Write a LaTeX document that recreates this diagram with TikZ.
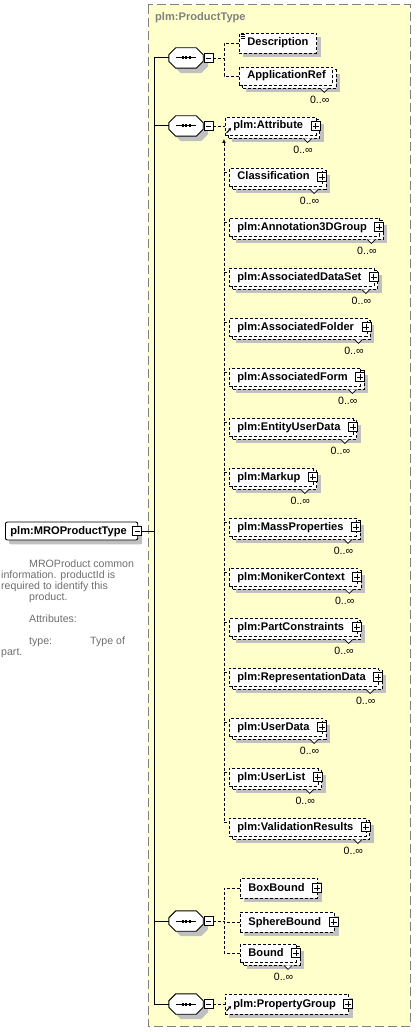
\documentclass[tikz,border=0pt]{standalone}
\usepackage{fontspec}
\setmainfont{Liberation Sans}
\usetikzlibrary{arrows.meta}
\definecolor{ybg}{RGB}{255,255,204}
\definecolor{shadowc}{RGB}{192,192,192}
\definecolor{hdrgray}{RGB}{128,128,128}
\definecolor{docgray}{RGB}{110,110,110}
\definecolor{framegray}{RGB}{128,128,128}
\pgfdeclarelayer{ylayer}
\pgfdeclarelayer{shad}
\pgfdeclarelayer{back}
\pgfsetlayers{ylayer,shad,back,main}
\tikzset{
  lbl/.style={font=\fontsize{11.1}{13}\selectfont\bfseries, text height=8pt, text depth=2pt},
  boxline/.style={dash pattern=on 3pt off 2pt, line width=0.9pt},
  conn/.style={dash pattern=on 3pt off 2pt, line width=0.9pt},
  solidconn/.style={line width=1pt},
  elembox/.style={lbl, boxline, draw, fill=white, anchor=west, inner xsep=0pt, inner ysep=0pt,
     execute at begin node={\hspace*{8pt}}, execute at end node={\hspace*{#1}}},
  single/.style={elembox=#1, minimum height=20pt},
  multi/.style={elembox=#1, minimum height=18pt},
  iconbox/.style={draw, fill=white, line width=0.8pt, minimum size=9pt, inner sep=0pt},
  minusbox/.style={iconbox, path picture={\draw[line width=0.8pt] ([xshift=2pt]path picture bounding box.west) -- ([xshift=-2pt]path picture bounding box.east);}},
  plusbox/.style={iconbox, path picture={\draw[line width=0.8pt] ([xshift=1.5pt]path picture bounding box.west) -- ([xshift=-1.5pt]path picture bounding box.east) ([yshift=1.5pt]path picture bounding box.south) -- ([yshift=-1.5pt]path picture bounding box.north);}},
  card/.style={font=\fontsize{10.6}{12}\selectfont, inner sep=0pt},
  doc/.style={font=\fontsize{10.6}{12}\selectfont, text=docgray, inner sep=0pt, anchor=base west},
  notch/.style={line width=0.7pt},
  seqframe/.style={draw=none, minimum width=34pt, minimum height=20pt, inner sep=0pt},
  refarrow/.style={line width=1pt, -{Stealth[length=3pt,width=3.5pt]}}
}
\newcommand\octagon[4]{\path[#4] ([shift={(7+#2,#3)}]#1.north west) -- ([shift={(-7+#2,#3)}]#1.north east) -- ([shift={(#2,7+#3)}]#1.north east) -- ([shift={(#2,-7+#3)}]#1.south east) -- ([shift={(-7+#2,#3)}]#1.south east) -- ([shift={(7+#2,#3)}]#1.south west) -- ([shift={(#2,-7+#3)}]#1.south west) -- ([shift={(#2,7+#3)}]#1.north west) -- cycle;}
\newcommand\Seq[2]{%
  \node[seqframe] (#1) at (186,#2) {};
  \begin{pgfonlayer}{shad}\octagon{#1}{5}{5}{fill=shadowc}\end{pgfonlayer}
  \octagon{#1}{0}{0}{draw, fill=white, line width=0.9pt}
  \draw[line width=1pt] ([xshift=-10pt]#1.center) -- ([xshift=10pt]#1.center);
  \foreach \d in {-3.5,0,3.5}{\fill ([shift={(\d-1,-1.5)}]#1.center) rectangle ([shift={(\d+1,1.5)}]#1.center);}
  \node[minusbox] (#1-m) at (208.5,#2) {};
}
\newcommand\SElem[5]{%
  \node[single=#5] (#1) at (#2,#3) {#4};
  \begin{pgfonlayer}{shad}
    \fill[shadowc] ([shift={(4,4)}]#1.north west) rectangle ([shift={(4,4)}]#1.south east);
  \end{pgfonlayer}
}
\newcommand\MElem[5]{%
  \node[multi=#5] (#1) at (#2,#3-1) {#4};
  \begin{pgfonlayer}{back}
    \draw[boxline, fill=white] ([shift={(3,3)}]#1.north west) rectangle ([shift={(3,3)}]#1.south east);
  \end{pgfonlayer}
  \begin{pgfonlayer}{shad}
    \fill[shadowc] ([shift={(7,7)}]#1.north west) rectangle ([shift={(7,7)}]#1.south east);
  \end{pgfonlayer}
  \draw[notch, fill=white] ([shift={(-13,3)}]#1.south east) -- ([shift={(-9,7)}]#1.south east) -- ([shift={(-5,3)}]#1.south east);
  \node[card] (#1-c) at ([shift={(-13.5,14)}]#1.south east) {0..∞};
}
\newcommand\PlusOn[1]{\node[plusbox] (#1-p) at ([xshift=-1pt]#1.east) {};}
\newcommand\Member[3]{%
  \MElem{#1}{229}{#2}{#3}{13pt}\PlusOn{#1}
  \coordinate (#1-t) at ([shift={(0,5)}]#1.north west);
  \draw[conn] (#1-t -| sg) -- (#1-t);
}
\begin{document}
\begin{tikzpicture}[x=1pt,y=-1pt]
\useasboundingbox (0,0) rectangle (417,1032);
\begin{pgfonlayer}{ylayer}
  \fill[ybg] (148,5) rectangle (410,1026);
  \draw[framegray, line width=1pt, dash pattern=on 9pt off 4pt] (148,5) rectangle (410,1026);
\end{pgfonlayer}
\node[lbl, text=hdrgray, anchor=west, inner sep=0pt] (hdr) at (155,18) {plm:ProductType};

% root element
\node[lbl, draw, fill=white, line width=0.9pt, rounded corners=2pt, anchor=west, inner xsep=0pt, inner ysep=0pt, minimum height=18pt, execute at begin node={\hspace*{5pt}}, execute at end node={\hspace*{11pt}}] (root) at (5,531) {plm:MROProductType};
\begin{pgfonlayer}{shad}
  \fill[shadowc, rounded corners=2pt] ([shift={(4,4)}]root.north west) rectangle ([shift={(4,4)}]root.south east);
\end{pgfonlayer}
\node[minusbox] (root-m) at ([xshift=-1pt]root.east) {};

% documentation
\node[doc] (d1) at (29,567) {MROProduct common};
\node[doc] (d2) at (1,578) {information. productId is};
\node[doc] (d3) at (1,589) {required to identify this};
\node[doc] (d4) at (29,600) {product.};
\node[doc] (d5) at (29,622) {Attributes:};
\node[doc] (d6) at (29,644) {type:};
\node[doc] (d6b) at (90,644) {Type of};
\node[doc] (d7) at (1,655) {part.};

% compositors
\Seq{s1}{58}
\Seq{s2}{126}
\Seq{s3}{921}
\Seq{s4}{1004}

% spine
\coordinate (spine) at (154,531);
\draw[solidconn] (root-m.east) -- (root-m.east -| spine);
\draw[solidconn] (s1.west) -- (s1.west -| spine) -- (s4.west -| spine) -- (s4.west);
\draw[solidconn] (s2.west) -- (s2.west -| spine);
\draw[solidconn] (s3.west) -- (s3.west -| spine);

% group 1
\SElem{desc}{239}{43}{Description}{8pt}
\foreach \k in {1.5,3.5,5.5}{\draw[line width=0.6pt] ([shift={(1.5,\k)}]desc.north west) -- ([shift={(5.5,\k)}]desc.north west);}
\MElem{appref}{239}{77}{ApplicationRef}{7pt}
\coordinate (g1) at (224,58);
\draw[conn] (s1-m.east) -- (g1);
\draw[conn] (desc.west) -| (g1);
\draw[conn] (appref.west) -| (g1);

% group 2
\MElem{attr}{225}{127}{plm:Attribute}{13pt}\PlusOn{attr}
\draw[refarrow] ([shift={(1.5,7)}]attr.west) -- ([shift={(6,2)}]attr.west);
\draw[conn] (s2-m.east) -- (attr.west);
\coordinate (sg) at (224,139);
\Member{m1}{178}{Classification}
\Member{m2}{228}{plm:Annotation3DGroup}
\Member{m3}{278}{plm:AssociatedDataSet}
\Member{m4}{328}{plm:AssociatedFolder}
\Member{m5}{378}{plm:AssociatedForm}
\Member{m6}{428}{plm:EntityUserData}
\Member{m7}{478}{plm:Markup}
\Member{m8}{528}{plm:MassProperties}
\Member{m9}{578}{plm:MonikerContext}
\Member{m10}{628}{plm:PartConstraints}
\Member{m11}{678}{plm:RepresentationData}
\Member{m12}{728}{plm:UserData}
\Member{m13}{778}{plm:UserList}
\Member{m14}{828}{plm:ValidationResults}
\draw[conn, {Latex[length=4pt,width=4pt]}-] (sg) -- (sg |- m14-t);

% group 3
\SElem{boxb}{240}{888}{BoxBound}{13pt}\PlusOn{boxb}
\SElem{sphb}{240}{922}{SphereBound}{13pt}\PlusOn{sphb}
\MElem{bound}{240}{954}{Bound}{13pt}\PlusOn{bound}
\coordinate (g3) at (224,921);
\draw[conn] (s3-m.east) -- (g3);
\draw[conn] (boxb.west) -| (g3);
\draw[conn] (sphb.west) -| (g3);
\draw[conn] (bound.west) -| (g3);

% group 4
\SElem{pgroup}{225}{1004}{plm:PropertyGroup}{13pt}\PlusOn{pgroup}
\draw[refarrow] ([shift={(1.5,7)}]pgroup.west) -- ([shift={(6,2)}]pgroup.west);
\draw[conn] (s4-m.east) -- (pgroup.west);
\end{tikzpicture}
\end{document}
